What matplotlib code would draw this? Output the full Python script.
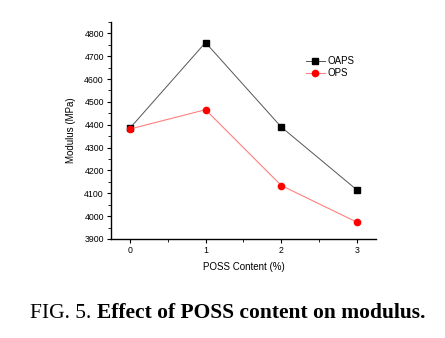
import matplotlib
matplotlib.use("Agg")
import matplotlib.pyplot as plt
from matplotlib.ticker import MultipleLocator

x = [0, 1, 2, 3]
oaps = [4384, 4760, 4390, 4114]
ops = [4381, 4466, 4134, 3973]

fig = plt.figure(figsize=(4.45, 3.38), dpi=100)
ax = fig.add_axes([0.249, 0.293, 0.596, 0.642])
ax.plot(x, oaps, color='#555555', lw=0.7, marker='s', ms=4.5, mfc='black', mec='black', label='OAPS')
ax.plot(x, ops, color='#ff8080', lw=0.8, marker='o', ms=4.5, mfc='red', mec='red', label='OPS')
ax.set_xlim(-0.25, 3.25)
ax.set_ylim(3900, 4850)
ax.set_xticks(x)
ax.yaxis.set_major_locator(MultipleLocator(100))
ax.yaxis.set_minor_locator(MultipleLocator(50))
ax.xaxis.set_minor_locator(MultipleLocator(0.5))
for s in ['top', 'right']:
    ax.spines[s].set_visible(False)
for s in ['left', 'bottom']:
    ax.spines[s].set_linewidth(1.0)
ax.tick_params(which='major', direction='out', length=3, width=0.8, labelsize=6.3, pad=2)
ax.tick_params(which='minor', direction='out', length=2, width=0.6)
for lab in ax.get_xticklabels() + ax.get_yticklabels():
    lab.set_fontfamily('Liberation Sans')
ax.set_xlabel('POSS Content (%)', fontsize=7, family='Liberation Sans', labelpad=5)
ax.set_ylabel('Modulus (MPa)', fontsize=7, family='Liberation Sans', labelpad=6)
ax.legend(loc='upper left', bbox_to_anchor=(0.72, 0.86), frameon=False,
          prop={'family': 'Liberation Sans', 'size': 7}, handlelength=2.0,
          handletextpad=0.2, labelspacing=0.2, borderaxespad=0)

t1 = fig.text(30/445, 0.059, 'FIG. 5. ', fontsize=15.5, family='Liberation Serif', va='baseline')
fig.canvas.draw()
bb = t1.get_window_extent()
fig.text(bb.x1 / fig.bbox.width, 0.059, 'Effect of POSS content on modulus.', fontsize=15.5,
         family='Liberation Serif', weight='bold', va='baseline')
fig.savefig('out.png', dpi=100)
